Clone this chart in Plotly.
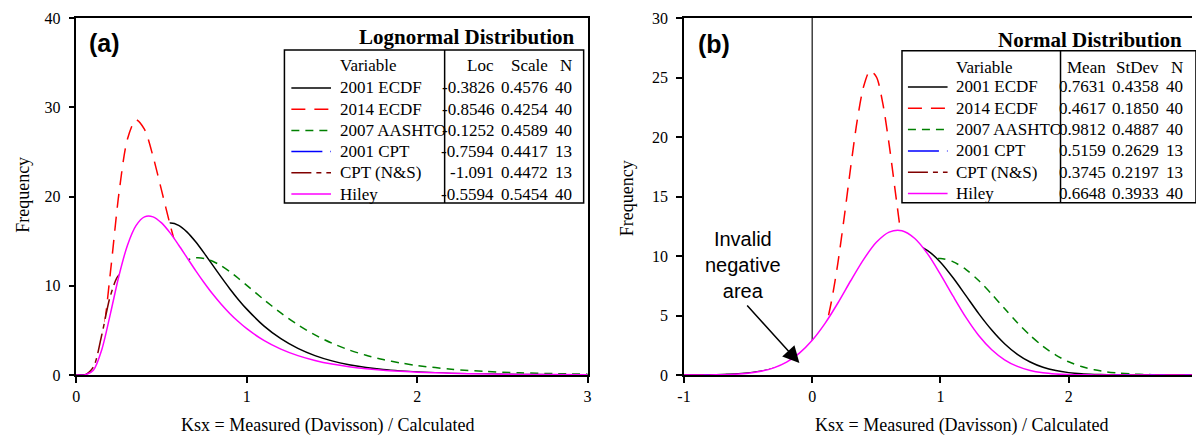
import plotly.graph_objects as go

W, H = 1196, 437
M_TOP, M_BOTTOM = 18, 62

# ---- series names / styles (table row order) ----
SERIES = ["2001 ECDF", "2014 ECDF", "2007 AASHTO", "2001 CPT", "CPT (N&amp;S)", "Hiley"]
COLORS = ["#000000", "#FF0000", "#008000", "#0000FF", "#800000", "#FF00FF"]
DASHES = ["solid", "14px,9px", "8px,6px", "31px,8px", "20px,5px,5px,5px", "solid"]
FILLED = [True, True, False, True, True, True]
DRAW_ORDER = [0, 2, 1, 3, 4, 5]

# ---- (a) lognormal fits ----
LN_LOC = [-0.3826, -0.8546, -0.1252, -0.7594, -1.091, -0.5594]
LN_SCALE = [0.4576, 0.4254, 0.4589, 0.4417, 0.4472, 0.5454]
LN_N = [40, 40, 40, 13, 13, 40]

LN_X = [0, 0.05, 0.1, 0.15, 0.2, 0.25, 0.3, 0.35, 0.4, 0.45, 0.5, 0.55, 0.6, 0.65,
        0.7, 0.75, 0.8, 0.85, 0.9, 0.95, 1.0, 1.1, 1.2, 1.3, 1.4, 1.5, 1.6, 1.7,
        1.8, 1.9, 2.0, 2.2, 2.4, 2.6, 2.8, 3.0]
LN_ECDF2001 = [0, 0, 0.02, 0.29, 1.44, 3.78, 6.96, 10.32, 13.25, 15.38, 16.62, 17.03,
               16.77, 16.01, 14.92, 13.65, 12.31, 10.96, 9.67, 8.47, 7.38, 5.51, 4.07,
               2.98, 2.17, 1.58, 1.15, 0.84, 0.61, 0.45, 0.33, 0.18, 0.10, 0.06, 0.03, 0.02]
LN_ECDF2014 = [0, 0, 0.34, 3.68, 11.52, 20.36, 26.45, 28.59, 27.51, 24.49, 20.69, 16.85,
               13.37, 10.41, 8.00, 6.11, 4.61, 3.48, 2.62, 1.97, 1.48, 0.84, 0.47, 0.28,
               0.16, 0.09, 0.05, 0.03, 0.02, 0.01, 0.01, 0, 0, 0, 0, 0]
LN_AASHTO2007 = [0, 0, 0, 0.04, 0.28, 0.96, 2.19, 3.92, 5.90, 7.90, 9.70, 11.16, 12.22,
                 12.86, 13.12, 13.06, 12.75, 12.23, 11.58, 10.84, 10.05, 8.45, 6.95, 5.62,
                 4.49, 3.56, 2.81, 2.21, 1.73, 1.36, 1.06, 0.65, 0.40, 0.25, 0.16, 0.10]
LN_CPT2001 = [0, 0, 0.08, 0.85, 2.77, 5.15, 7.07, 8.11, 8.27, 7.80, 6.97, 5.99, 5.01,
              4.11, 3.32, 2.66, 2.11, 1.66, 1.31, 1.03, 0.80, 0.49, 0.30, 0.19, 0.12,
              0.07, 0.05, 0.03, 0.02, 0.01, 0.01, 0, 0, 0, 0, 0]
LN_CPTNS = [0, 0.01, 0.89, 4.57, 8.89, 11.19, 11.23, 9.90, 8.06, 6.24, 4.68, 3.44, 2.50,
            1.80, 1.29, 0.92, 0.66, 0.47, 0.34, 0.25, 0.18, 0.09, 0.05, 0.03, 0.02, 0.01,
            0, 0, 0, 0, 0, 0, 0, 0, 0, 0]
LN_HILEY = [0, 0.01, 0.53, 2.89, 6.88, 11.12, 14.55, 16.74, 17.72, 17.72, 17.04, 15.92,
            14.57, 13.13, 11.70, 10.34, 9.07, 7.93, 6.90, 5.99, 5.19, 3.88, 2.90, 2.17,
            1.63, 1.22, 0.92, 0.70, 0.53, 0.41, 0.31, 0.19, 0.12, 0.07, 0.05, 0.03]

# ---- (b) normal fits ----
NM_MEAN = [0.7631, 0.4617, 0.9812, 0.5159, 0.3745, 0.6648]
NM_STDEV = [0.4358, 0.1850, 0.4887, 0.2629, 0.2197, 0.3933]
NM_N = [40, 40, 40, 13, 13, 40]

NM_X = [-1.0, -0.9, -0.8, -0.7, -0.6, -0.5, -0.4, -0.3, -0.2, -0.1,
        0.0, 0.1, 0.2, 0.3, 0.4, 0.5, 0.6, 0.7, 0.8, 0.9, 1.0,
        1.1, 1.2, 1.3, 1.4, 1.5, 1.6, 1.7, 1.8, 1.9, 2.0,
        2.1, 2.2, 2.3, 2.4, 2.5, 2.6, 2.7, 2.8, 2.9, 3.0]
NM_X_FINE = [-0.3, -0.25, -0.2, -0.15, -0.1, -0.05, 0.0, 0.05, 0.1, 0.15, 0.2, 0.25,
             0.3, 0.35, 0.4, 0.45, 0.5, 0.55, 0.6, 0.65, 0.7, 0.75, 0.8, 0.85, 0.9,
             0.95, 1.0, 1.05, 1.1, 1.15, 1.2, 1.25, 1.3]
NM_ECDF2001 = [0, 0.01, 0.02, 0.04, 0.08, 0.17, 0.31, 0.56, 0.96, 1.54,
               2.37, 3.45, 4.77, 6.25, 7.76, 9.15, 10.24, 10.87, 10.95, 10.46, 9.48,
               8.15, 6.65, 5.14, 3.78, 2.63, 1.74, 1.09, 0.65, 0.37, 0.20,
               0.10, 0.05, 0.02, 0.01, 0, 0, 0, 0, 0, 0]
NM_ECDF2014 = [0, 0.02, 0.04, 0.11, 0.26, 0.56, 1.14, 2.15, 3.79, 6.19, 9.41, 13.30,
               17.47, 21.33, 24.21, 25.55, 25.06, 22.84, 19.36, 15.25, 11.17, 7.60,
               4.81, 2.83, 1.55, 0.79, 0.37, 0.16, 0.07, 0.03, 0.01, 0, 0]
NM_AASHTO2007 = [0, 0.01, 0.01, 0.03, 0.05, 0.10, 0.18, 0.32, 0.53, 0.85,
                 1.31, 1.93, 2.73, 3.71, 4.83, 6.03, 7.23, 8.30, 9.15, 9.66, 9.79,
                 9.51, 8.86, 7.92, 6.79, 5.58, 4.39, 3.32, 2.41, 1.67, 1.11,
                 0.71, 0.44, 0.26, 0.15, 0.08, 0.04, 0.02, 0.01, 0, 0]
NM_CPT2001 = [0, 0, 0, 0, 0, 0, 0.01, 0.05, 0.15, 0.38,
              0.86, 1.69, 2.87, 4.22, 5.37, 5.91, 5.62, 4.63, 3.30, 2.04, 1.09,
              0.50, 0.20, 0.07, 0.02, 0.01, 0, 0, 0, 0, 0,
              0, 0, 0, 0, 0, 0, 0, 0, 0, 0]
NM_CPTNS = [0, 0, 0, 0, 0, 0, 0.01, 0.06, 0.23, 0.69,
            1.66, 3.24, 5.17, 6.69, 7.03, 6.02, 4.18, 2.36, 1.09, 0.41, 0.12,
            0.03, 0.01, 0, 0, 0, 0, 0, 0, 0, 0,
            0, 0, 0, 0, 0, 0, 0, 0, 0, 0]
NM_HILEY = [0, 0, 0.01, 0.03, 0.07, 0.15, 0.31, 0.60, 1.08, 1.84,
            2.92, 4.34, 6.05, 7.92, 9.70, 11.15, 12.01, 12.12, 11.47, 10.18, 8.46,
            6.60, 4.82, 3.30, 2.12, 1.28, 0.72, 0.38, 0.19, 0.09, 0.04,
            0.02, 0.01, 0, 0, 0, 0, 0, 0, 0, 0]

LN_XTICKS = [0, 1, 2, 3]
LN_XTICKTEXT = ["0", "1", "2", "3"]
LN_YTICKS = [0, 10, 20, 30, 40]
NM_XTICKS = [-1, 0, 1, 2]
NM_XTICKTEXT = ["-1", "0", "1", "2"]
NM_YTICKS = [0, 5, 10, 15, 20, 25, 30]

LN_CURVES = [(LN_X, LN_ECDF2001), (LN_X, LN_ECDF2014), (LN_X, LN_AASHTO2007),
             (LN_X, LN_CPT2001), (LN_X, LN_CPTNS), (LN_X, LN_HILEY)]
NM_CURVES = [(NM_X, NM_ECDF2001), (NM_X_FINE, NM_ECDF2014), (NM_X, NM_AASHTO2007),
             (NM_X, NM_CPT2001), (NM_X, NM_CPTNS), (NM_X, NM_HILEY)]

SERIF = "Liberation Serif"
SANS = "Liberation Sans"


def px(x):
    """figure pixel column -> paper x"""
    return x / W


def py(y):
    """figure pixel row -> paper y (paper spans the plotting band between margins)"""
    return (H - M_BOTTOM - y) / (H - M_TOP - M_BOTTOM)


def label(x, y, text, font, xanchor="center", **kw):
    return dict(xref="paper", yref="paper", x=px(x), y=py(y), text=text,
                showarrow=False, xanchor=xanchor, yanchor="middle", font=font, **kw)


fig = go.Figure()

# Each filled curve is backed by a white area so curves drawn later hide what lies beneath them.
for curves, xa, ya in [(LN_CURVES, "x", "y"), (NM_CURVES, "x2", "y2")]:
    for i in DRAW_ORDER:
        xs, ys = curves[i]
        fig.add_trace(go.Scatter(
            x=xs, y=ys, mode="lines", xaxis=xa, yaxis=ya,
            name=SERIES[i].replace("&amp;", "&"),
            line=dict(color=COLORS[i], width=1.5, dash=DASHES[i], shape="spline", smoothing=0.8),
            fill="tozeroy" if FILLED[i] else None,
            fillcolor="white",
            showlegend=False, hoverinfo="skip",
        ))

axis_common = dict(showline=True, linecolor="black", linewidth=1.5, ticks="outside",
                   ticklen=6, tickwidth=1.5, tickcolor="black", showgrid=False,
                   zeroline=False, tickfont=dict(family=SERIF, size=16, color="black"))

fig.update_layout(
    width=W, height=H,
    margin=dict(l=0, r=0, t=M_TOP, b=M_BOTTOM),
    paper_bgcolor="white", plot_bgcolor="white",
    xaxis=dict(domain=[px(70), px(586)], range=[0, 3], tickvals=LN_XTICKS,
               ticktext=LN_XTICKTEXT, mirror=True, anchor="y", **axis_common),
    yaxis=dict(domain=[0, 1], range=[0, 40], tickvals=LN_YTICKS, mirror=True,
               anchor="x", ticklabelstandoff=5, **axis_common),
    xaxis2=dict(domain=[px(683.3), 1.0], range=[-1, 2.962], tickvals=NM_XTICKS,
                ticktext=NM_XTICKTEXT, mirror=True, anchor="y2", **axis_common),
    yaxis2=dict(domain=[0, 1], range=[0, 30], tickvals=NM_YTICKS, anchor="x2",
                ticklabelstandoff=5, **axis_common),
)

shapes = []
annotations = []

# vertical reference at Ksx = 0 (sits beneath the curves)
shapes.append(dict(type="line", xref="x2", yref="y2", x0=0, x1=0, y0=0, y1=30,
                   line=dict(color="#404040", width=1.5), layer="below"))


def add_table(title, title_right, title_y, box, divider, sample_x, label_x,
              header_y, row0, step, col_heads, col_right, cols):
    x0, y0, x1, y1 = box
    shapes.append(dict(type="rect", xref="paper", yref="paper",
                       x0=px(x0), x1=px(x1), y0=py(y1), y1=py(y0),
                       line=dict(color="black", width=1.5)))
    shapes.append(dict(type="line", xref="paper", yref="paper",
                       x0=px(divider), x1=px(divider), y0=py(y1), y1=py(y0),
                       line=dict(color="black", width=1.5)))
    annotations.append(label(title_right, title_y, "<b>%s</b>" % title,
                             dict(family=SERIF, size=21, color="black"), xanchor="right"))
    tfont = dict(family=SERIF, size=17, color="black")
    annotations.append(label(label_x, header_y, "Variable", tfont, xanchor="left"))
    for head, xr in zip(col_heads, col_right):
        annotations.append(label(xr, header_y, head, tfont, xanchor="right"))
    for i, name in enumerate(SERIES):
        ry = row0 + step * i
        shapes.append(dict(type="line", xref="paper", yref="paper",
                           x0=px(sample_x[0]), x1=px(sample_x[1]), y0=py(ry), y1=py(ry),
                           line=dict(color=COLORS[i], width=1.5, dash=DASHES[i])))
        annotations.append(label(label_x, ry, name, tfont, xanchor="left"))
        for col, xr in zip(cols, col_right):
            v = col[i]
            s = str(v) if isinstance(v, int) else format(v, "#.4g")
            annotations.append(label(xr, ry, s, tfont, xanchor="right"))


add_table("Lognormal Distribution", 575, 37, (280, 50, 582, 203), 441.7,
          (287, 327), 334, 66, 88, 21.2, ["Loc", "Scale", "N"], [494, 548.5, 572],
          [LN_LOC, LN_SCALE, LN_N])
add_table("Normal Distribution", 1188, 39.5, (903.3, 50.7, 1200, 202.7), 1063.3,
          (909.3, 949.3), 956, 67.5, 87, 21.3, ["Mean", "StDev", "N"], [1111, 1164.5, 1189],
          [NM_MEAN, NM_STDEV, NM_N])

# panel letters
annotations.append(label(98, 43, "<b>(a)</b>", dict(family=SANS, size=25, color="black")))
annotations.append(label(714, 44, "<b>(b)</b>", dict(family=SANS, size=25, color="black")))

# axis titles
for xc, yc in [(324, 425), (964, 425)]:
    annotations.append(label(xc, yc, "Ksx = Measured (Davisson) / Calculated",
                             dict(family=SERIF, size=18, color="black")))
for xc, yc in [(16, 195), (626, 198)]:
    annotations.append(label(xc, yc, "Frequency", dict(family=SERIF, size=18, color="black"),
                             textangle=-90))

# negative-region callout
annotations.append(label(743, 265, "Invalid<br>negative<br>area",
                         dict(family=SANS, size=20, color="black")))
annotations.append(dict(xref="x2", yref="y2", x=-0.1, y=1.0, axref="x2", ayref="y2",
                        ax=-0.518, ay=5.97, text="", showarrow=True, arrowhead=2,
                        arrowsize=2.2, arrowwidth=1.5, arrowcolor="black", standoff=0))

fig.update_layout(shapes=shapes, annotations=annotations)
fig.write_html("out.html")
